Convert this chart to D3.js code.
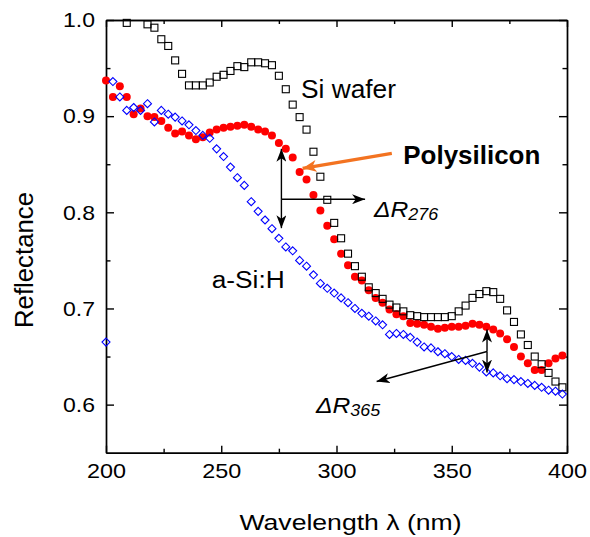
<!DOCTYPE html>
<html>
<head>
<meta charset="utf-8">
<script src="https://cdn.jsdelivr.net/npm/d3@7"></script>
<style>
  body { margin: 0; background: #fff; }
  svg { display: block; }
  text { font-family: "Liberation Sans", Arial, sans-serif; fill: #000; }
</style>
</head>
<body>
<div id="chart"></div>
<script>
// wavelength grid (nm) shared by polysilicon and a-Si:H
const wavelength = [200,203,206,209,212,215,218,221,224,227,230,233,236,239,242,245,248,251,254,257,
  260,263,266,269,272,275,278,281,284,287,290,293,296,299,302,305,308,311,314,317,
  320,323,326,329,332,335,338,341,344,347,350,353,356,359,362,365,368,371,374,377,
  380,383,386,389,392,395,398];

const polysilicon = [0.937,0.920,0.931,0.920,0.902,0.908,0.900,0.899,0.895,0.888,
  0.882,0.884,0.880,0.876,0.878,0.883,0.886,0.888,0.889,0.890,
  0.891,0.889,0.886,0.884,0.880,0.872,0.866,0.857,0.842,0.834,
  0.818,0.802,0.786,0.772,0.757,0.745,0.733,0.729,0.719,0.711,
  0.706,0.699,0.694,0.692,0.685,0.684,0.683,0.681,0.679,0.680,
  0.681,0.681,0.682,0.684,0.683,0.681,0.678,0.674,0.668,0.660,
  0.650,0.643,0.636,0.636,0.643,0.648,0.651];

const aSiH = [0.665,0.936,0.920,0.906,0.909,0.906,0.913,0.894,0.906,0.902,
  0.899,0.895,0.891,0.885,0.880,0.877,0.866,0.858,0.847,0.836,
  0.828,0.811,0.801,0.792,0.783,0.773,0.764,0.760,0.750,0.744,
  0.735,0.726,0.721,0.716,0.711,0.706,0.700,0.695,0.692,0.687,
  0.683,0.673,0.674,0.673,0.670,0.665,0.660,0.659,0.655,0.653,
  0.650,0.647,0.646,0.643,0.639,0.634,0.633,0.630,0.627,0.626,
  0.624,0.622,0.620,0.618,0.615,0.614,0.611];

// Si wafer points (values above 1.0 are off the chart)
const siWaferWl = [209,218,221,224,227,230,233,236,239,242,245,248,251,254,257,
  260,263,266,269,272,275,278,281,284,287,290,293,296,299,302,305,308,311,314,317,
  320,323,326,329,332,335,338,341,344,347,350,353,356,359,362,365,368,371,374,377,
  380,383,386,389,392,395,398];
const siWafer = [0.997,0.9955,0.992,0.980,0.973,0.958,0.944,0.932,0.932,0.932,0.935,0.941,0.943,0.947,0.952,
  0.951,0.956,0.956,0.955,0.953,0.942,0.928,0.912,0.899,0.886,0.863,0.837,0.813,0.789,0.773,0.757,0.744,0.733,0.722,0.716,
  0.710,0.704,0.701,0.697,0.693,0.692,0.691,0.691,0.691,0.691,0.692,0.697,0.703,0.711,0.715,0.718,0.717,0.710,0.698,0.686,
  0.673,0.662,0.650,0.642,0.633,0.624,0.618];

const xMajor = [200, 250, 300, 350, 400];
const xMinor = [225, 275, 325, 375];
const yMajor = [0.6, 0.7, 0.8, 0.9, 1.0];
const yMinor = [0.65, 0.75, 0.85, 0.95];

const width = 590;
const height = 537;

const x = d3.scaleLinear().domain([200, 400]).range([106, 567]);
const y = d3.scaleLinear().domain([0.55, 1.0]).range([452.7, 20]);

const svg = d3.select("#chart")
    .append("svg")
    .attr("width", width)
    .attr("height", height);

// arrow heads
const defs = svg.append("defs");
function addHead(id, color, len, half) {
    defs.append("marker")
        .attr("id", id)
        .attr("viewBox", `${-len} ${-half} ${len} ${half * 2}`)
        .attr("refX", 0).attr("refY", 0)
        .attr("markerUnits", "userSpaceOnUse")
        .attr("markerWidth", len).attr("markerHeight", half * 2)
        .attr("orient", "auto")
        .append("path")
        .attr("d", `M0,0L${-len},${-half}L${-len * 0.72},0L${-len},${half}Z`)
        .attr("fill", color);
}
addHead("headBlack", "#000", 13, 5);
addHead("headOrange", "#f37321", 14, 6);

// axes
function styleAxis(g) {
    g.selectAll("path, line").attr("stroke", "#000").attr("stroke-width", 1.4);
}

const bottom = svg.append("g")
    .attr("transform", `translate(0,${y(0.55)})`)
    .call(d3.axisBottom(x).tickValues(xMajor).tickSize(-7).tickSizeOuter(0).tickFormat(d3.format("d")));
bottom.selectAll("text")
    .attr("y", 25).attr("dy", 0)
    .attr("font-size", 21)
    .attr("textLength", 39)
    .attr("lengthAdjust", "spacingAndGlyphs");
svg.append("g")
    .attr("transform", `translate(0,${y(0.55)})`)
    .call(d3.axisBottom(x).tickValues(xMinor).tickSize(-4).tickSizeOuter(0).tickFormat(""));

svg.append("g")
    .attr("transform", `translate(0,${y(1.0)})`)
    .call(d3.axisTop(x).tickValues(xMajor).tickSize(-7).tickSizeOuter(0).tickFormat(""));
svg.append("g")
    .attr("transform", `translate(0,${y(1.0)})`)
    .call(d3.axisTop(x).tickValues(xMinor).tickSize(-4).tickSizeOuter(0).tickFormat(""));

const left = svg.append("g")
    .attr("transform", `translate(${x(200)},0)`)
    .call(d3.axisLeft(y).tickValues(yMajor).tickSize(-8).tickSizeOuter(0).tickFormat(d3.format(".1f")));
left.selectAll("text")
    .attr("x", -11)
    .attr("font-size", 21)
    .attr("textLength", 32)
    .attr("lengthAdjust", "spacingAndGlyphs");
svg.append("g")
    .attr("transform", `translate(${x(200)},0)`)
    .call(d3.axisLeft(y).tickValues(yMinor).tickSize(-4.5).tickSizeOuter(0).tickFormat(""));

svg.append("g")
    .attr("transform", `translate(${x(400)},0)`)
    .call(d3.axisRight(y).tickValues(yMajor).tickSize(-8).tickSizeOuter(0).tickFormat(""));
svg.append("g")
    .attr("transform", `translate(${x(400)},0)`)
    .call(d3.axisRight(y).tickValues(yMinor).tickSize(-4.5).tickSizeOuter(0).tickFormat(""));

svg.selectAll("g").call(styleAxis);
svg.selectAll(".tick text").attr("fill", "#000").attr("font-family", "Liberation Sans, Arial, sans-serif");

// axis titles
svg.append("text")
    .attr("x", 350.5).attr("y", 530)
    .attr("text-anchor", "middle")
    .attr("font-size", 22)
    .attr("textLength", 222)
    .attr("lengthAdjust", "spacingAndGlyphs")
    .text("Wavelength λ (nm)");

svg.append("text")
    .attr("transform", "translate(33,260) rotate(-90)")
    .attr("text-anchor", "middle")
    .attr("font-size", 26)
    .attr("textLength", 136)
    .attr("lengthAdjust", "spacingAndGlyphs")
    .text("Reflectance");

// series
const polyData = wavelength.map((w, i) => ({ w: w, r: polysilicon[i] }));
const aSiData = wavelength.map((w, i) => ({ w: w, r: aSiH[i] }));
const siData = siWaferWl.map((w, i) => ({ w: w, r: siWafer[i] }));

svg.append("g")
    .selectAll("circle")
    .data(polyData)
    .enter().append("circle")
    .attr("cx", d => x(d.w))
    .attr("cy", d => y(d.r))
    .attr("r", 4)
    .attr("fill", "#ff0000");

svg.append("g")
    .selectAll("rect")
    .data(siData)
    .enter().append("rect")
    .attr("x", d => x(d.w) - 3.5)
    .attr("y", d => y(d.r) - 3.5)
    .attr("width", 7)
    .attr("height", 7)
    .attr("fill", "none")
    .attr("stroke", "#000")
    .attr("stroke-width", 1.1);

svg.append("g")
    .selectAll("path")
    .data(aSiData)
    .enter().append("path")
    .attr("transform", d => `translate(${x(d.w)},${y(d.r)})`)
    .attr("d", "M0,-4L4,0L0,4L-4,0Z")
    .attr("fill", "none")
    .attr("stroke", "#0000ff")
    .attr("stroke-width", 1.1);

// annotation arrows (data coordinates)
function arrow(x1, y1, x2, y2, head, color, w) {
    svg.append("line")
        .attr("x1", x(x1)).attr("y1", y(y1))
        .attr("x2", x(x2)).attr("y2", y(y2))
        .attr("stroke", color)
        .attr("stroke-width", w)
        .attr("marker-end", `url(#${head})`);
}
// delta R at 276 nm
arrow(276.1, 0.8136, 276.1, 0.866, "headBlack", "#000", 1.4);
arrow(276.1, 0.8136, 276.1, 0.7835, "headBlack", "#000", 1.4);
arrow(276.1, 0.8136, 312.4, 0.8136, "headBlack", "#000", 1.4);
// delta R at 365 nm
arrow(365.3, 0.6552, 365.3, 0.678, "headBlack", "#000", 1.4);
arrow(365.3, 0.6552, 365.3, 0.6334, "headBlack", "#000", 1.4);
arrow(365.3, 0.6552, 317.4, 0.624, "headBlack", "#000", 1.4);
// polysilicon pointer
arrow(324.0, 0.8614, 285.3, 0.8458, "headOrange", "#f37321", 3.3);

// labels
svg.append("text")
    .attr("x", 301).attr("y", 98.3)
    .attr("font-size", 25)
    .attr("textLength", 95)
    .attr("lengthAdjust", "spacingAndGlyphs")
    .text("Si wafer");

svg.append("text")
    .attr("x", 403.3).attr("y", 164)
    .attr("font-size", 25)
    .attr("font-weight", "bold")
    .attr("textLength", 137)
    .attr("lengthAdjust", "spacingAndGlyphs")
    .text("Polysilicon");

svg.append("text")
    .attr("x", 211.7).attr("y", 288.3)
    .attr("font-size", 23)
    .attr("textLength", 73)
    .attr("lengthAdjust", "spacingAndGlyphs")
    .text("a-Si:H");

function deltaLabel(px, py, sub) {
    const t = svg.append("text")
        .attr("transform", `translate(${px},${py}) scale(1.12,1)`)
        .attr("font-style", "italic");
    t.append("tspan").attr("font-size", 22).text("ΔR");
    t.append("tspan").attr("font-size", 16).attr("dy", 3).text(sub);
}
deltaLabel(374, 216.7, "276");
deltaLabel(316, 412.7, "365");
</script>
</body>
</html>
